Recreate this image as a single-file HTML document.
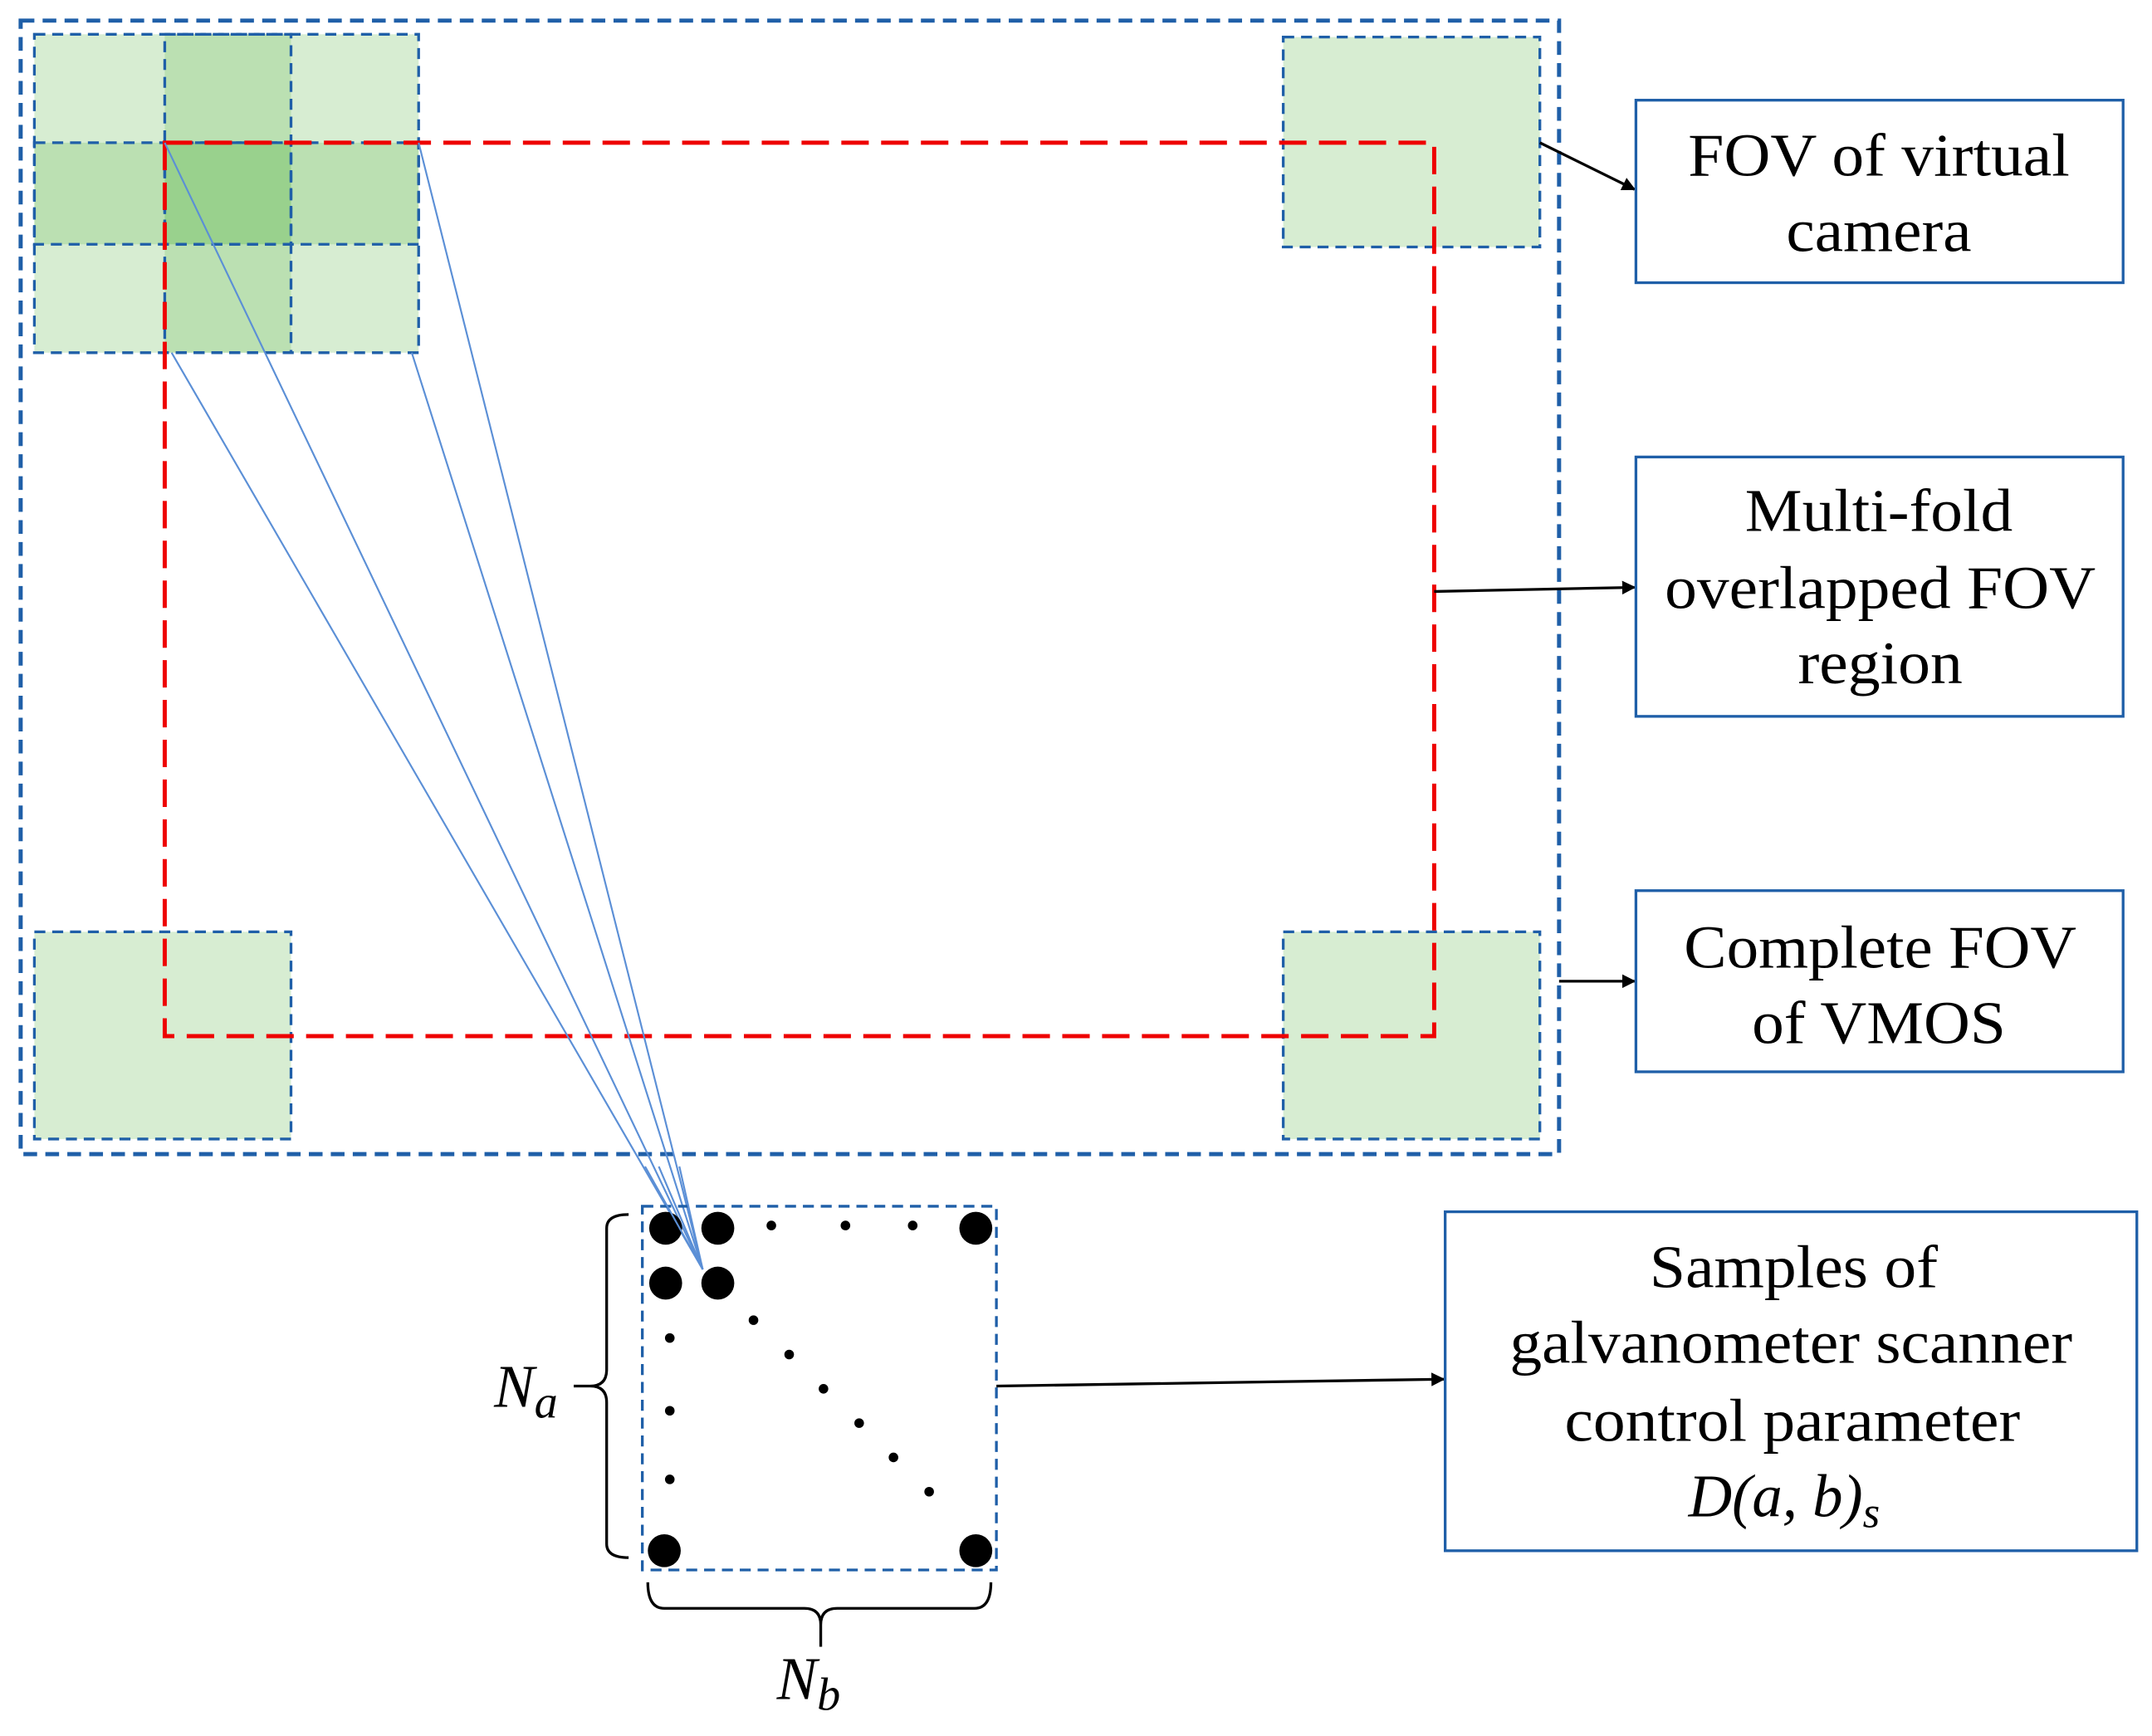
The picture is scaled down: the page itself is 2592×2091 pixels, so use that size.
<!DOCTYPE html>
<html><head><meta charset="utf-8"><style>html,body{margin:0;padding:0;background:#fff}svg{display:block}</style></head><body>
<svg width="2592" height="2091" viewBox="0 0 1568 1265" xmlns="http://www.w3.org/2000/svg" font-family="'Liberation Serif', serif">
<defs><marker id="ar" markerWidth="10" markerHeight="10" refX="9" refY="5" orient="auto" markerUnits="userSpaceOnUse"><path d="M0,0 L10,5 L0,10 z" fill="#000"/></marker></defs>
<rect width="1568" height="1265" fill="#fff"/>
<!-- green squares -->
<g fill="#7cc36b" fill-opacity="0.3">
<rect x="25" y="25" width="187" height="153"/><rect x="120" y="25" width="185" height="153"/>
<rect x="25" y="104" width="187" height="153"/><rect x="120" y="104" width="185" height="153"/>
<rect x="935" y="27" width="187" height="153"/><rect x="25" y="679" width="187" height="151"/><rect x="935" y="679" width="187" height="151"/>
</g>
<g fill="none" stroke="#1f5fa8" stroke-width="2" stroke-dasharray="8 5">
<rect x="25" y="25" width="187" height="153"/><rect x="120" y="25" width="185" height="153"/>
<rect x="25" y="104" width="187" height="153"/><rect x="120" y="104" width="185" height="153"/>
<rect x="935" y="27" width="187" height="153"/><rect x="25" y="679" width="187" height="151"/><rect x="935" y="679" width="187" height="151"/>
</g>
<rect x="15" y="15" width="1121" height="826" fill="none" stroke="#1f5fa8" stroke-width="3" stroke-dasharray="10 6"/>
<rect x="120" y="104" width="925" height="651" fill="none" stroke="#e00" stroke-width="3" stroke-dasharray="20 9"/>
<!-- blue fan lines -->
<g stroke="#5b8fd6" stroke-width="1.3">
<line x1="120" y1="104" x2="512" y2="925"/><line x1="125" y1="257" x2="512" y2="925"/>
<line x1="305" y1="104" x2="512" y2="925"/><line x1="300" y1="257" x2="512" y2="925"/>
</g>
<!-- sample box -->
<rect x="468" y="879" width="258" height="265" fill="none" stroke="#1f5fa8" stroke-width="2" stroke-dasharray="8 5"/>
<g fill="#000">
<circle cx="485" cy="895" r="12"/><circle cx="523" cy="895" r="12"/><circle cx="711" cy="895" r="12"/>
<circle cx="485" cy="935" r="12"/><circle cx="523" cy="935" r="12"/><circle cx="484" cy="1130" r="12"/><circle cx="711" cy="1130" r="12"/>
<circle cx="562" cy="893" r="3.5"/><circle cx="616" cy="893" r="3.5"/><circle cx="665" cy="893" r="3.5"/>
<circle cx="488" cy="975" r="3.5"/><circle cx="488" cy="1028" r="3.5"/><circle cx="488" cy="1078" r="3.5"/>
<circle cx="549" cy="962" r="3.5"/><circle cx="575" cy="987" r="3.5"/><circle cx="600" cy="1012" r="3.5"/>
<circle cx="626" cy="1037" r="3.5"/><circle cx="651" cy="1062" r="3.5"/><circle cx="677" cy="1087" r="3.5"/>
</g>
<!-- the re-drawn fan over dots -->
<g stroke="#5b8fd6" stroke-width="1.3"><line x1="470" y1="850" x2="512" y2="925"/><line x1="480" y1="850" x2="512" y2="925"/><line x1="495" y1="850" x2="512" y2="925"/></g>
<!-- braces -->
<g fill="none" stroke="#000" stroke-width="2">
<path d="M458,885 Q442,885 442,895 L442,998 Q442,1010 430,1010 L418,1010 M430,1010 Q442,1010 442,1022 L442,1125 Q442,1135 458,1135"/>
<path d="M472,1153 Q472,1172 484,1172 L586,1172 Q598,1172 598,1184 L598,1200 M598,1184 Q598,1172 610,1172 L710,1172 Q722,1172 722,1153"/>
</g>
<text x="360" y="1025" font-size="44" font-style="italic">N<tspan font-size="34" dy="8">a</tspan></text>
<text x="566" y="1238" font-size="44" font-style="italic">N<tspan font-size="34" dy="8">b</tspan></text>
<!-- arrows -->
<g stroke="#000" stroke-width="2" marker-end="url(#ar)">
<line x1="1122" y1="104" x2="1191" y2="138"/><line x1="1045" y1="431" x2="1191" y2="428"/>
<line x1="1136" y1="715" x2="1191" y2="715"/><line x1="726" y1="1010" x2="1052" y2="1005"/>
</g>
<!-- boxes -->
<g fill="#fff" stroke="#1f5fa8" stroke-width="2">
<rect x="1192" y="73" width="355" height="133"/><rect x="1192" y="333" width="355" height="189"/>
<rect x="1192" y="649" width="355" height="132"/><rect x="1053" y="883" width="504" height="247"/>
</g>
<g font-size="44" fill="#000" text-anchor="middle" lengthAdjust="spacingAndGlyphs">
<text x="1369" y="128" textLength="278" lengthAdjust="spacingAndGlyphs">FOV of virtual</text>
<text x="1369" y="183" textLength="135" lengthAdjust="spacingAndGlyphs">camera</text>
<text x="1369" y="387" textLength="195" lengthAdjust="spacingAndGlyphs">Multi-fold</text>
<text x="1370" y="443" textLength="314" lengthAdjust="spacingAndGlyphs">overlapped FOV</text>
<text x="1370" y="498" textLength="120" lengthAdjust="spacingAndGlyphs">region</text>
<text x="1370" y="705" textLength="286" lengthAdjust="spacingAndGlyphs">Complete FOV</text>
<text x="1369" y="760" textLength="185" lengthAdjust="spacingAndGlyphs">of VMOS</text>
<text x="1307" y="938" textLength="210" lengthAdjust="spacingAndGlyphs">Samples of</text>
<text x="1305" y="993" textLength="410" lengthAdjust="spacingAndGlyphs">galvanometer scanner</text>
<text x="1306" y="1050" textLength="332" lengthAdjust="spacingAndGlyphs">control parameter</text>
<text x="1300" y="1105" font-style="italic">D(a, b)<tspan font-size="32" dy="8">s</tspan></text>
</g>
</svg>
</body></html>
